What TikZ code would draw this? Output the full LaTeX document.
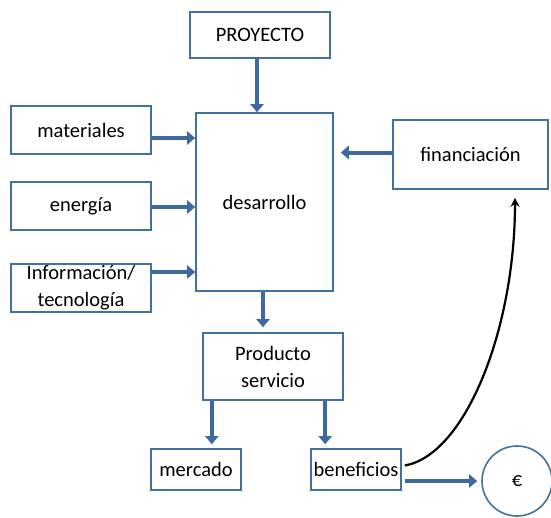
\documentclass[tikz,border=0pt]{standalone}
\usepackage{fontspec}
\setmainfont{Carlito}
\usetikzlibrary{arrows.meta}
\definecolor{boxblue}{RGB}{65,113,156}
\definecolor{arrblue}{RGB}{62,104,160}
\begin{document}
\begin{tikzpicture}
	[	x=1pt,y=-1pt,
	box/.style={rectangle,draw=boxblue,line width=1.6pt,fill=white,inner sep=0pt,align=center,font=\fontsize{20.5}{27}\selectfont},
	arr/.style={draw=arrblue,line width=4pt,-{Triangle[length=8pt,width=13pt]}},
	curve/.style={draw=black,line width=2.2pt,-{Stealth[length=9pt,width=9pt]}}
	]
	\useasboundingbox (0,0) rectangle (551,517);
	\node[box,minimum width=140pt,minimum height=46pt] (proyecto) at (260,35){PROYECTO};
	\node[box,minimum width=137pt,minimum height=178pt] (desarrollo) at (264.5,202){desarrollo};
	\node[box,minimum width=140pt,minimum height=48pt] (materiales) at (81,130){materiales};
	\node[box,minimum width=140pt,minimum height=48pt] (energia) at (81,206){energía};
	\node[box,minimum width=140pt,minimum height=48pt] (info) at (81,288){Información/\\tecnología};
	\node[box,minimum width=155pt,minimum height=69pt] (financiacion) at (470.5,154.5){financiación};
	\node[box,minimum width=140pt,minimum height=67pt] (producto) at (273,366.5){Producto\\servicio};
	\node[box,minimum width=90pt,minimum height=41pt] (mercado) at (196,469.5){mercado};
	\node[box,minimum width=90pt,minimum height=41pt] (beneficios) at (356,469.5){beneficios};
	\node[box,circle,minimum size=70pt] (euro) at (517,481){€};

	\draw[arr] ([xshift=-3pt]proyecto.south) -- ([xshift=-3pt]proyecto.south |- desarrollo.north);
	\draw[arr] ([yshift=-8pt]materiales.east) -- ([yshift=-8pt]materiales.east -| desarrollo.west);
	\draw[arr] ([yshift=-1pt]energia.east) -- ([yshift=-1pt]energia.east -| desarrollo.west);
	\draw[arr] ([yshift=16pt]info.east) -- ([yshift=16pt]info.east -| desarrollo.west);
	\draw[arr,shorten >=7pt] ([yshift=2pt]financiacion.west) -- ([yshift=2pt]financiacion.west -| desarrollo.east);
	\draw[arr,shorten >=5pt] ([xshift=-1.5pt]desarrollo.south) -- ([xshift=-1.5pt]desarrollo.south |- producto.north);
	\draw[arr,shorten >=4pt] (producto.south -| mercado.east) ++(-30pt,0) coordinate (pm) -- (pm |- mercado.north);
	\draw[arr,shorten >=4pt] (producto.south -| beneficios.west) ++(15pt,0) coordinate (pb) -- (pb |- beneficios.north);
	\draw[arr,shorten >=4pt] ([xshift=3pt,yshift=-11.5pt]beneficios.east) -- ([yshift=-11.5pt]beneficios.east -| euro.west);
	\draw[curve] ([xshift=3pt,yshift=4pt]beneficios.east) .. controls (465,455) and (515,330) .. ([xshift=44.5pt,yshift=-8pt]financiacion.south);
\end{tikzpicture}
\end{document}
